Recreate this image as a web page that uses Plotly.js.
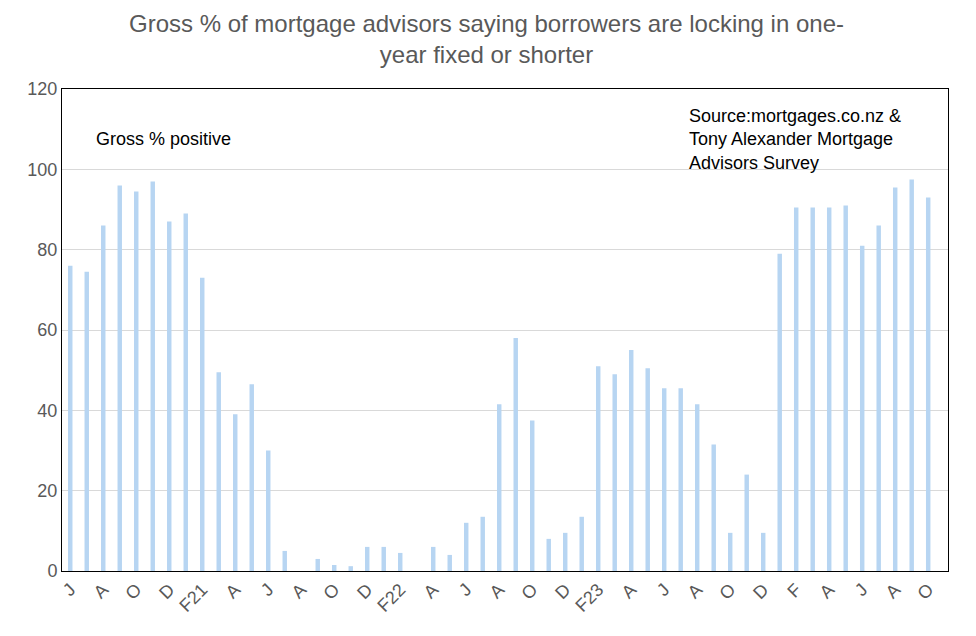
<!DOCTYPE html>
<html>
<head>
<meta charset="utf-8">
<script src="https://cdn.plot.ly/plotly-3.0.1.min.js"></script>
<style>body{margin:0;background:#fff}#chart{width:976px;height:636px}</style>
</head>
<body>
<div id="chart"></div>
<script>
// monthly survey, Jun 2020 .. Oct 2024 (null = no survey)
const grossPositive = [
	76, 74.5, 86, 96, 94.5, 97, 87, 89, 73, 49.5,
	39, 46.5, 30, 5, null, 3, 1.5, 1.2, 6, 6,
	4.5, null, 6, 4, 12, 13.5, 41.5, 58, 37.5, 8,
	9.5, 13.5, 51, 49, 55, 50.5, 45.5, 45.5, 41.5, 31.5,
	9.5, 24, 9.5, 79, 90.5, 90.5, 90.5, 91, 81, 86,
	95.5, 97.5, 93
];
const tickLabels = ["J", "A", "O", "D", "F21", "A", "J", "A", "O", "D", "F22", "A", "J", "A", "O", "D", "F23", "A", "J", "A", "O", "D", "F", "A", "J", "A", "O"];

const xIdx = grossPositive.map((v, i) => i);
const tickIdx = tickLabels.map((t, i) => i * 2);

const data = [
	{
		x: xIdx,
		y: grossPositive,
		type: "bar",
		width: 0.27,
		marker: { color: "#b7d5f2" },
		hoverinfo: "y",
	},
];

const layout = {
	width: 976,
	height: 636,
	paper_bgcolor: "#fff",
	plot_bgcolor: "#fff",
	showlegend: false,
	margin: { l: 62, r: 28, t: 89, b: 65 },
	font: { family: "Liberation Sans, Arial", size: 18, color: "#595959" },
	xaxis: {
		range: [-0.5, 53.2],
		tickvals: tickIdx,
		ticktext: tickLabels,
		tickangle: -45,
		showgrid: false,
		zeroline: false,
		showline: true,
		mirror: true,
		linecolor: "#000",
		linewidth: 1,
		ticks: "",
	},
	yaxis: {
		range: [0, 120],
		dtick: 20,
		showgrid: true,
		gridcolor: "#d9d9d9",
		zeroline: false,
		showline: true,
		mirror: true,
		linecolor: "#000",
		linewidth: 1,
		ticks: "",
	},
	annotations: [
		{
			// chart title
			text: "Gross % of mortgage advisors saying borrowers are locking in one-<br>year fixed or shorter",
			xref: "paper", yref: "paper",
			x: 0.479, y: 1.168, xanchor: "center", yanchor: "top",
			showarrow: false,
			font: { size: 24, color: "#595959" },
		},
		{
			text: "Gross % positive",
			xref: "paper", yref: "paper",
			x: 0.036, y: 0.897, xanchor: "left", yanchor: "middle",
			showarrow: false,
			font: { size: 18, color: "#000" },
		},
		{
			text: "Source:mortgages.co.nz &amp;<br>Tony Alexander Mortgage<br>Advisors Survey",
			xref: "paper", yref: "paper",
			x: 0.705, y: 0.968, xanchor: "left", yanchor: "top",
			align: "left",
			showarrow: false,
			font: { size: 18, color: "#000" },
		},
	],
};

Plotly.newPlot("chart", data, layout, { displayModeBar: false });
</script>
</body>
</html>
